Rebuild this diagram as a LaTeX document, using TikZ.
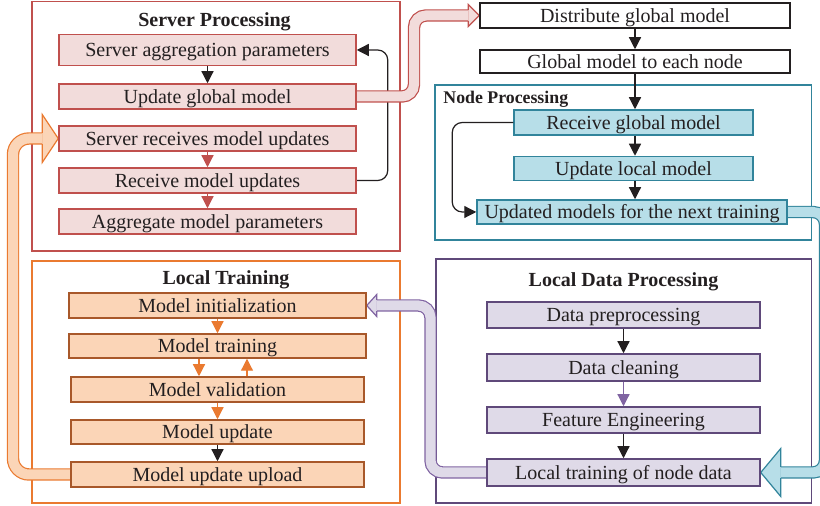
\documentclass[tikz,border=0pt]{standalone}
\usepackage{fontspec}
\setmainfont{Liberation Serif}
\usetikzlibrary{arrows.meta,calc}

\definecolor{srvline}{HTML}{C0504D}
\definecolor{srvfill}{HTML}{F2DCDB}
\definecolor{trnline}{HTML}{EA7A30}
\definecolor{trnbox}{HTML}{A8582A}
\definecolor{trnfill}{HTML}{FBD5B7}
\definecolor{nodline}{HTML}{31849B}
\definecolor{nodfill}{HTML}{B7DEE8}
\definecolor{datline}{HTML}{5F497A}
\definecolor{datfill}{HTML}{DFDAE8}
\definecolor{datarr}{HTML}{8064A2}
\definecolor{ink}{HTML}{231F20}

\pgfdeclarelayer{back}
\pgfdeclarelayer{mid}
\pgfsetlayers{back,mid,main}

% wide hollow arrow head: options, tip, direction (1 right / -1 left), length, half height
\newcommand\fatarrowhead[5]{%
  \begin{scope}[shift={(#2)}, xscale=#3]
    \filldraw[line width=0.6pt, line join=miter, #1]
      (-#4,-5.6) -- (-#4,-#5) -- (0,0) -- (-#4,#5) -- (-#4,5.6);
  \end{scope}}

\begin{document}
\begin{tikzpicture}[x=0.5pt,y=-0.5pt,
  font=\fontsize{10pt}{11pt}\selectfont,
  every node/.style={text=ink},
  frame/.style={line width=0.75pt},
  box/.style={draw, line width=0.75pt, inner sep=0pt, text height=7pt,
    text depth=0.2pt, minimum height=12.5pt},
  sbox/.style={box, draw=srvline, fill=srvfill},
  tbox/.style={box, draw=trnbox, fill=trnfill},
  nbox/.style={box, draw=nodline, fill=nodfill},
  dbox/.style={box, draw=datline, fill=datfill},
  wbox/.style={box, draw=ink, fill=white},
  title/.style={font=\fontsize{10pt}{11pt}\selectfont\bfseries, anchor=base, inner sep=0pt},
  arr/.style={line width=0.6pt, -{Triangle[length=6pt,width=6pt]}},
  band/.style={line width=0.6pt, double distance=5pt, rounded corners=6pt},
]
\useasboundingbox (0,0) rectangle (820,506);
\clip (0,0) rectangle (820,506);

% ---------- Server processing ----------
\node[title] (tsrv) at (214.5,26.7) {Server Processing};
\node[sbox, minimum width=148.5pt, minimum height=15.5pt] (sa) at (207.5,50) {Server aggregation parameters};
\node[sbox, minimum width=148.5pt] (ug) at (207.5,96.5) {Update global model};
\node[sbox, minimum width=148.5pt] (sr) at (207.5,138.5) {Server receives model updates};
\node[sbox, minimum width=148.5pt] (rm) at (207.5,180.5) {Receive model updates};
\node[sbox, minimum width=148.5pt] (am) at (207.5,221.5) {Aggregate model parameters};

% ---------- Distribution ----------
\node[wbox, minimum width=155pt] (dg) at (635,15.5) {Distribute global model};
\node[wbox, minimum width=155pt, minimum height=11.5pt] (gm) at (635,61.5) {Global model to each node};

% ---------- Node processing ----------
\node[title, anchor=base west, font=\fontsize{8.9pt}{10pt}\selectfont\bfseries] (tnod) at (443,104) {Node Processing};
\node[nbox, minimum width=119.5pt] (rg) at (633.5,122.5) {Receive global model};
\node[nbox, minimum width=119.5pt, minimum height=12pt] (ul) at (633.5,168.5) {Update local model};
\node[nbox, minimum width=155pt, minimum height=12pt] (um) at (632,212) {Updated models for the next training};

% ---------- Local training ----------
\node[title] (tloc) at (226,285) {Local Training};
\node[tbox, minimum width=148.5pt] (mi) at (217.5,305.5) {Model initialization};
\node[tbox, minimum width=148.5pt, minimum height=12pt] (mt) at (217.5,346) {Model training};
\node[tbox, minimum width=146.5pt] (mv) at (217.5,389.5) {Model validation};
\node[tbox, minimum width=146.5pt, minimum height=12pt] (mu) at (217.5,432) {Model update};
\node[tbox, minimum width=146.5pt] (mup) at (217.5,474.5) {Model update upload};

% ---------- Local data processing ----------
\node[title] (tdat) at (623.5,286.5) {Local Data Processing};
\node[dbox, minimum width=136.5pt, minimum height=13pt] (dp) at (623.5,315) {Data preprocessing};
\node[dbox, minimum width=136.5pt, minimum height=13.5pt] (dc) at (623.5,367.5) {Data cleaning};
\node[dbox, minimum width=136.5pt, minimum height=13pt] (fe) at (623.5,420) {Feature Engineering};
\node[dbox, minimum width=136.5pt, minimum height=13.5pt] (lt) at (623.5,472.5) {Local training of node data};

% ---------- group frames ----------
\begin{pgfonlayer}{back}
  \draw[frame, srvline] (32,1.5) rectangle (400,251);
  \draw[frame, nodline] (435,85) rectangle (811.5,240);
  \draw[frame, trnline] (32,261) rectangle (400,503);
  \draw[frame, datline] (436,259) rectangle (811.5,503);
  % aggregation feedback loop
  \draw[arr, ink, rounded corners=5pt] (rm.east) -- ++(31,0) |- (sa.east);
\end{pgfonlayer}

% ---------- wide flow arrows between groups ----------
\coordinate (rt) at (414,0);
\coordinate (ol) at (13,0);
\coordinate (tr) at (825,0);
\coordinate (pl) at (430.5,0);
\begin{pgfonlayer}{mid}
  % server -> distribution
  \fatarrowhead{draw=srvline, fill=srvfill}{dg.west}{1}{11}{11}
  \draw[band, draw=srvline, double=srvfill]
    (ug.east) -- (ug.east -| rt) -- (rt |- dg.west) -- ($(dg.west)+(-11,0)$);
  % upload -> server
  \fatarrowhead{draw=trnline, fill=trnfill}{sr.west}{1}{16}{24}
  \draw[band, rounded corners=8pt, draw=trnline, double=trnfill]
    (mup.west) -- (mup.west -| ol) -- (ol |- sr.west) -- ($(sr.west)+(-16,0)$);
  % node processing -> local data
  \fatarrowhead{draw=nodline, fill=nodfill}{lt.east}{-1}{20}{24}
  \draw[band, draw=nodline, double=nodfill]
    (um.east) -- (um.east -| tr) -- (tr |- lt.east) -- ($(lt.east)+(20,0)$);
  % local data -> local training
  \fatarrowhead{draw=datarr, fill=datfill}{mi.east}{-1}{10}{11}
  \draw[band, draw=datarr, double=datfill]
    (lt.west) -- (lt.west -| pl) -- (pl |- mi.east) -- ($(mi.east)+(10,0)$);
\end{pgfonlayer}

% ---------- arrows inside groups ----------
\draw[arr, ink] (sa.south) -- (ug.north);
\draw[arr, srvline] (sr.south) -- (rm.north);
\draw[arr, srvline] (rm.south) -- (am.north);

\draw[arr, ink] (dg.south) -- (gm.north);
\draw[arr, ink] (gm.south) -- (gm.south |- rg.north);
\draw[arr, ink] (rg.south -| gm.south) -- (ul.north -| gm.south);
\draw[arr, ink] (ul.south -| gm.south) -- (um.north -| gm.south);
\draw[arr, ink, rounded corners=5pt] (rg.west) -- ++(-61,0) |- (um.west);

\draw[arr, trnline] (mi.south) -- (mt.north);
\draw[arr, trnline] ($(mt.south)+(-18.5,0)$) -- ($(mv.north)+(-18.5,0)$);
\draw[arr, trnline] ($(mv.north)+(29.5,0)$) -- ($(mt.south)+(29.5,0)$);
\draw[arr, trnline] (mv.south) -- (mu.north);
\draw[arr, ink] (mu.south) -- (mup.north);

\draw[arr, ink] (dp.south) -- (dc.north);
\draw[arr, datarr] (dc.south) -- (fe.north);
\draw[arr, ink] (fe.south) -- (lt.north);
\end{tikzpicture}
\end{document}
